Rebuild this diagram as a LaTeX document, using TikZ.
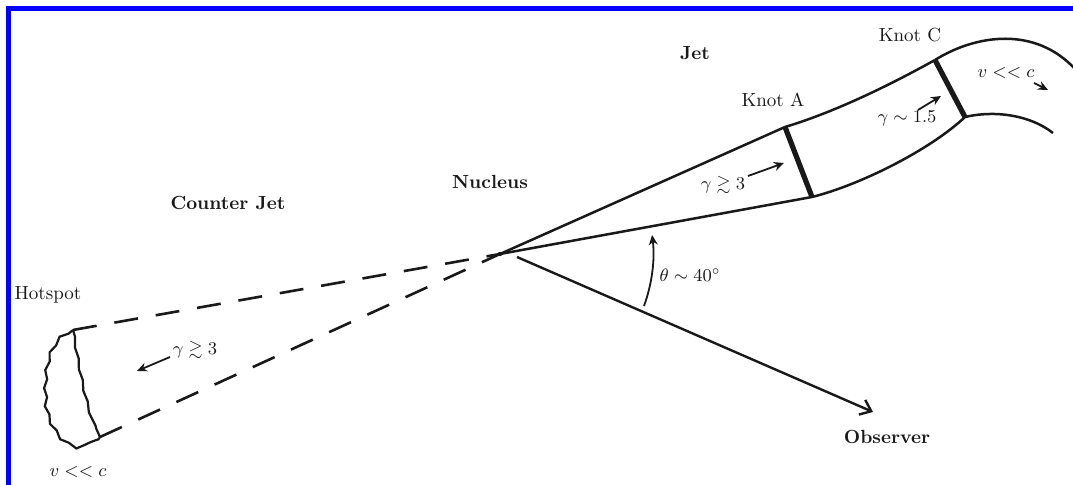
\documentclass[tikz,border=0pt]{standalone}
\usepackage{amsmath}
\usepackage{amssymb}
\usepackage{tikz}
\usetikzlibrary{arrows.meta, decorations.pathmorphing}
\definecolor{myblue}{RGB}{0,0,255}
\definecolor{mydark}{RGB}{25,25,25}
\tikzset{
  lbl/.style={font=\fontsize{9.5}{11}\selectfont\bfseries, inner sep=1pt, color=mydark},
  knot/.style={font=\fontsize{9.5}{11}\selectfont, inner sep=1pt, color=mydark},
  mlbl/.style={font=\small, inner sep=1pt, color=mydark},
  edge/.style={line width=1.25pt, color=mydark},
  knotline/.style={line width=2.6pt, color=mydark},
  dashline/.style={line width=1.3pt, color=mydark, dash pattern=on 12pt off 9pt},
  wavy/.style={line width=1.1pt, color=mydark, decorate,
    decoration={snake, segment length=9pt, amplitude=0.7pt}},
  arrow/.style={-{Stealth[length=5pt,width=4.5pt]}, line width=0.9pt, color=mydark},
  obsarrow/.style={-{Straight Barb[length=5pt,width=8pt]}, line width=1.2pt, color=mydark}
}

\begin{document}
\begin{tikzpicture}[x=0.5pt, y=-0.5pt]
  \useasboundingbox (0,0) rectangle (1073,485);
  \fill[white] (0,0) rectangle (1073,485);
  % frame
  \fill[myblue] (6,6) rectangle (1073,11);
  \fill[myblue] (6,6) rectangle (11,485);

  % points
  \coordinate (nuc) at (500,254);
  \coordinate (kAt) at (785,127);
  \coordinate (kAb) at (812,197);
  \coordinate (kCt) at (935,60);
  \coordinate (kCb) at (965,117);
  \coordinate (ht) at (73,330);
  \coordinate (hb) at (100,437);

  % labels
  \node[knot] (hotspot) at (48,295) {Hotspot};
  \node[lbl] (cjet) at (228,203) {Counter Jet};
  \node[lbl] (nucleus) at (490,182) {Nucleus};
  \node[lbl] (jet) at (695,53) {Jet};
  \node[knot] (knotA) at (773,100) {Knot A};
  \node[knot] (knotC) at (910,35) {Knot C};
  \node[lbl] (observer) at (887,437) {Observer};
  \node[mlbl] (gamH) at (195,350) {$\gamma \gtrsim 3$};
  \node[mlbl] (gamA) at (723,185) {$\gamma \gtrsim 3$};
  \node[mlbl] (gamC) at (907,118) {$\gamma \sim 1.5$};
  \node[mlbl] (theta) at (690,275) {$\theta \sim 40^\circ$};
  \node[mlbl] (vslowC) at (1006,73) {$v << c$};
  \node[mlbl] (vslowH) at (78,472) {$v << c$};

  % jet
  \draw[edge] (nuc) -- (kAt);
  \draw[edge] (nuc) -- (kAb);
  \draw[edge] (kAt) .. controls (835,112) and (890,85) .. (kCt);
  \draw[edge] (kAb) .. controls (860,185) and (930,150) .. (kCb);
  \draw[edge] (kCt) .. controls (975,35) and (1035,25) .. (1076,70);
  \draw[edge] (kCb) .. controls (995,110) and (1030,115) .. (1053,133);
  \draw[knotline] (kAt) -- (kAb);
  \draw[knotline] (kCt) -- (kCb);
  \fill[mydark] (nuc) circle (2.2);

  % counter jet and hotspot
  \draw[dashline] (ht) -- (nuc);
  \draw[dashline] (hb) -- (nuc);
  \draw[wavy] (ht) .. controls (52,340) and (48,370) .. (50,400)
    .. controls (52,430) and (78,460) .. (hb);
  \draw[wavy, decoration={segment length=11pt, amplitude=0.45pt}] (ht) .. controls (78,360) and (85,405) .. (hb);

  % arrows
  \coordinate (ahS) at (170,357);
  \coordinate (ahE) at (137,371);
  \draw[arrow] (ahS) -- (ahE);
  \coordinate (aaS) at (748,176);
  \coordinate (aaE) at (784,163);
  \draw[arrow] (aaS) -- (aaE);
  \coordinate (acS) at (918,110);
  \coordinate (acE) at (941,96);
  \draw[arrow] (acS) -- (acE);
  \coordinate (avS) at (1034,83);
  \coordinate (avE) at (1048,90);
  \draw[arrow] (avS) -- (avE);
  \coordinate (thS) at (644,306);
  \draw[arrow] (thS) arc[start angle=20, end angle=-7, radius=153];
  \coordinate (obsS) at (517,257);
  \coordinate (obsE) at (873,412);
  \draw[obsarrow] (obsS) -- (obsE);
\end{tikzpicture}
\end{document}
